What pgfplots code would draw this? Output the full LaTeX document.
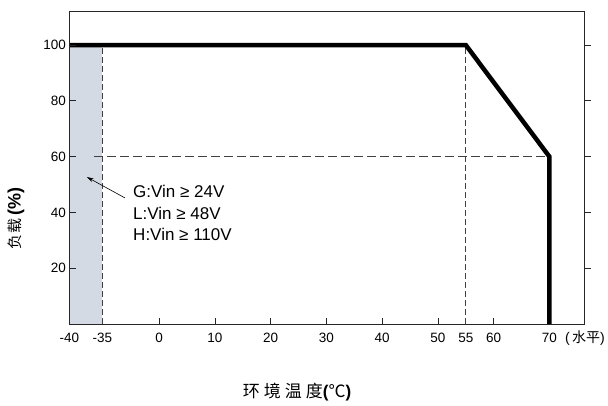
\documentclass[border=0pt]{standalone}
\usepackage{pgfplots}
\pgfplotsset{compat=1.18}
\usepackage{fontspec}
\setmainfont{Liberation Sans}
\newfontfamily\cjk{Noto Sans CJK SC}
\usetikzlibrary{arrows.meta}
\definecolor{shade}{HTML}{D4DAE3}
\definecolor{dashgray}{HTML}{404040}

\pgfplotsset{
    frame/.style={
        scale only axis,
        width=515pt, height=313pt,
        xmin=-16.1, xmax=76.3,
        ymin=0, ymax=112.2,
        axis line style={black!85, line width=0.8pt},
        tick style={black!85, line width=0.8pt},
        ytick={20,40,60,80,100},
    },
}

\begin{document}
\begin{tikzpicture}
\begin{axis}[
    frame,
    clip=false,
    xtick={0,10,...,60},
    extra x ticks={-16.1,-10.2,55,70},
    extra x tick labels={-40,-35,55,70},
    xtick pos=bottom,
    ytick pos=left,
    major tick length=0pt,
    /pgf/number format/assume math mode=true,
    tick label style={font=\fontsize{13.5}{15}\selectfont},
    xticklabel style={yshift=-6pt},
    xlabel={{\cjk 环\hspace{4pt}境\hspace{4pt}温\hspace{4pt}度}\textbf{(}{\cjk ℃}\textbf{)}},
    x label style={at={(axis description cs:0.442,-0.217)}, anchor=center,
        font=\fontsize{17}{19}\selectfont},
    ylabel={{\cjk\fontsize{15}{17}\selectfont 负\hspace{1pt}载}\,\textbf{(\%)}},
    y label style={at={(axis description cs:-0.104,0.337)}, anchor=center,
        font=\fontsize{18}{20}\selectfont},
]

% region below -35 C
\addplot[fill=shade, draw=none] coordinates {(-16.1,0)(-10.2,0)(-10.2,100)(-16.1,100)};

% guide lines
\addplot[dashgray, line width=0.8pt, dash pattern=on 6pt off 3pt] coordinates {(-10.2,0)(-10.2,100)};
\addplot[dashgray, line width=0.8pt, dash pattern=on 6pt off 3pt] coordinates {(55,0)(55,100)};
\addplot[dashgray, line width=0.8pt, dash pattern=on 9pt off 4pt] coordinates {(-11.7,60)(70,60)};

% derating curve
\addplot[black, line width=4.5pt, line join=miter] coordinates {(-16.1,100)(55,100)(70,60)(70,0)};

\draw[-{Stealth[length=7pt,width=4pt]}, line width=0.6pt] (axis cs:-6.16,45.2) -- (axis cs:-13.0,52.7);
\node[anchor=base west, inner sep=0pt, font=\fontsize{17}{20}\selectfont] at (axis cs:-4.7,45.5) {G:Vin ≥ 24V};
\node[anchor=base west, inner sep=0pt, font=\fontsize{17}{20}\selectfont] at (axis cs:-4.7,37.6) {L:Vin ≥ 48V};
\node[anchor=base west, inner sep=0pt, font=\fontsize{17}{20}\selectfont] at (axis cs:-4.7,30.1) {H:Vin ≥ 110V};

\node[anchor=base west, inner sep=0pt, font=\fontsize{14}{16}\selectfont] at (axis description cs:0.962,-0.0607) {(\,{\cjk 水平})};
\end{axis}

% left and bottom tick marks point inwards
\begin{axis}[
    frame,
    axis x line*=bottom,
    axis y line*=left,
    xtick={0,10,...,60},
    tick align=inside,
    major tick length=6pt,
    xticklabels={}, yticklabels={},
]
\end{axis}

% right-hand tick marks point outwards
\begin{axis}[
    frame,
    hide x axis,
    axis y line*=right,
    ytick align=outside,
    major tick length=6pt,
    yticklabels={},
]
\end{axis}
\pgfresetboundingbox
\path (-69.5pt,-82pt) rectangle (538.5pt,324pt);
\end{tikzpicture}
\end{document}
